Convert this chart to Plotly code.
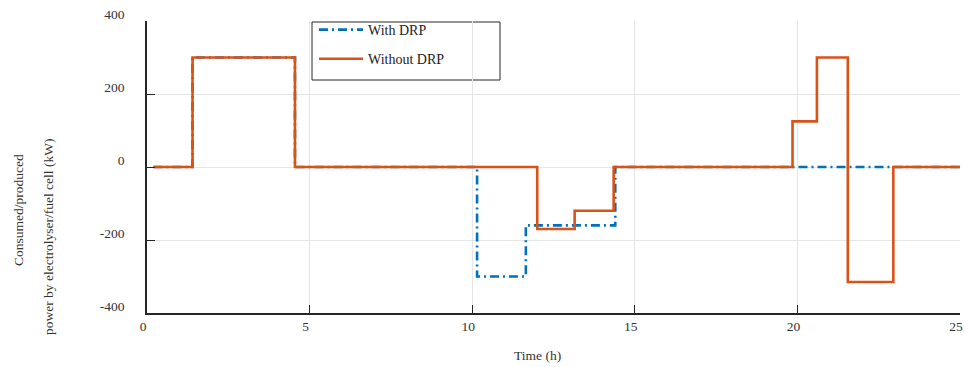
import plotly.graph_objects as go

# Data (time in hours, power in kW), step changes
t_with = [0.2, 1.4, 4.55, 10.15, 11.65, 14.4, 25]
p_with = [0, 300, 0, -300, -160, 0, 0]

t_without = [0.2, 1.4, 4.55, 12.0, 13.15, 14.35, 19.85, 20.6, 21.55, 22.95, 25]
p_without = [0, 300, 0, -170, -120, 0, 125, 300, -315, 0, 0]

x_ticks = [0, 5, 10, 15, 20, 25]
y_ticks = [-400, -200, 0, 200, 400]
y_ticktext = ["-400", "-200", "0", "200", "400"]

FONT = "Liberation Serif"
TXT = "#333333"
W, H = 964, 367
L, R, T, B = 147, 4, 21, 54
pw, ph = W - L - R, H - T - B

def px(x):
    return (x - L) / pw

def py(y):
    return (H - B - y) / ph

fig = go.Figure()
fig.add_trace(go.Scatter(
    x=t_with, y=p_with, mode="lines", line_shape="hv", name="With DRP",
    legendgroup="a",
    line=dict(color="#0072BD", width=2.6, dash="9px,4px,2px,4px")))
fig.add_trace(go.Scatter(
    x=t_without, y=p_without, mode="lines", line_shape="hv", name="Without DRP",
    legendgroup="b",
    line=dict(color="#D95319", width=2.6)))

fig.update_layout(
    width=W, height=H,
    margin=dict(l=L, r=R, t=T, b=B, autoexpand=False),
    paper_bgcolor="white", plot_bgcolor="white",
    font=dict(family=FONT, size=13.5, color=TXT),
    showlegend=True,
    legend=dict(x=px(314), y=py(14), xanchor="left", yanchor="top",
                bgcolor="rgba(0,0,0,0)", borderwidth=0, itemwidth=44,
                traceorder="grouped", tracegroupgap=8,
                font=dict(family=FONT, size=14, color="#222222")),
    shapes=[dict(type="rect", xref="paper", yref="paper",
                 x0=px(312), x1=px(500), y0=py(80), y1=py(22),
                 line=dict(color="#262626", width=1), fillcolor="white",
                 layer="below")],
    annotations=[
        dict(text="Consumed/produced", xref="paper", yref="paper",
             x=px(18), y=py(210), textangle=-90, showarrow=False,
             xanchor="center", yanchor="middle",
             font=dict(family=FONT, size=13.5, color=TXT)),
        dict(text="power by electrolyser/fuel cell (kW)", xref="paper", yref="paper",
             x=px(48), y=py(237), textangle=-90, showarrow=False,
             xanchor="center", yanchor="middle",
             font=dict(family=FONT, size=13.5, color=TXT)),
        dict(text="Time (h)", xref="paper", yref="paper",
             x=px(537), y=py(355), showarrow=False,
             xanchor="center", yanchor="middle",
             font=dict(family=FONT, size=13.5, color=TXT)),
    ],
)

fig.update_xaxes(range=[0, 25], tickvals=x_ticks, showgrid=True,
                 gridcolor="#e6e6e6", gridwidth=1, automargin=False,
                 showline=True, linecolor="#262626", linewidth=1.5,
                 ticks="inside", ticklen=8, tickcolor="#262626",
                 ticklabelstandoff=0, ticklabelshift=-4,
                 ticklabeloverflow="allow",
                 tickfont=dict(family=FONT, size=13.5, color=TXT),
                 zeroline=False)
fig.update_yaxes(range=[-400, 400], tickvals=y_ticks, ticktext=y_ticktext,
                 showgrid=True, gridcolor="#e6e6e6", gridwidth=1, automargin=False,
                 showline=True, linecolor="#262626", linewidth=1.5,
                 ticks="inside", ticklen=8, tickcolor="#262626",
                 ticklabelstandoff=18, ticklabelshift=-7,
                 tickfont=dict(family=FONT, size=13.5, color=TXT),
                 ticklabeloverflow="allow", zeroline=False)

fig.write_html("out.html")
